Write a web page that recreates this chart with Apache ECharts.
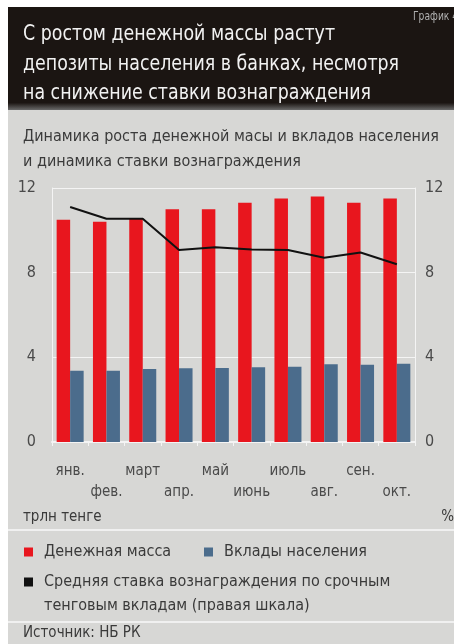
<!DOCTYPE html>
<html>
<head>
<meta charset="utf-8">
<script src="https://cdn.jsdelivr.net/npm/echarts@6/dist/echarts.min.js"></script>
<style>
html,body{margin:0;padding:0;background:#ffffff;}
#chart{width:454px;height:644px;}
</style>
</head>
<body>
<div id="chart"></div>
<script>
const categories = ['янв.', 'фев.', 'март', 'апр.', 'май', 'июнь', 'июль', 'авг.', 'сен.', 'окт.'];
const moneySupply = [10.5, 10.4, 10.55, 11.0, 11.0, 11.3, 11.5, 11.6, 11.3, 11.5];
const deposits = [3.37, 3.37, 3.45, 3.48, 3.5, 3.53, 3.56, 3.67, 3.65, 3.7];
const rate = [11.1, 10.55, 10.55, 9.07, 9.2, 9.1, 9.07, 8.7, 8.95, 8.4];
const yTicks = [0, 4, 8, 12];

const FONT = "'Liberation Sans Narrow', 'DejaVu Sans Condensed', 'Roboto Condensed', 'Liberation Sans', sans-serif";
const NAME_M = 'Денежная масса';
const NAME_D = 'Вклады населения';
const NAME_R_1 = 'Средняя ставка вознаграждения по срочным';
const NAME_R_2 = 'тенговым вкладам (правая шкала)';
const NAME_R = NAME_R_1 + ' ' + NAME_R_2;

const chart = echarts.init(document.getElementById('chart'), null, {renderer: 'canvas'});

const option = {
  backgroundColor: '#ffffff',
  animation: false,
  textStyle: {fontFamily: FONT},
  graphic: [
    {type: 'rect', silent: true, z: -10, shape: {x: 8, y: 7, width: 446, height: 637}, style: {fill: '#d7d7d5'}},
    {type: 'rect', silent: true, z: -9, shape: {x: 8, y: 7, width: 446, height: 103},
      style: {fill: {type: 'linear', x: 0, y: 0, x2: 0, y2: 1, colorStops: [
        {offset: 0, color: '#1b1512'}, {offset: 0.93, color: '#1b1512'}, {offset: 1, color: '#6a6a6a'}]}}},
    {type: 'text', silent: true, x: 23, y: 20, scaleX: 0.88, style: {
      text: 'С ростом денежной массы растут\nдепозиты населения в банках, несмотря\nна снижение ставки вознаграждения',
      fill: '#f2f2f2', font: '22px ' + FONT, lineHeight: 29.5}},
    {type: 'text', silent: true, x: 413, y: 11, scaleX: 0.85, style: {text: 'График 4', fill: '#b0b0b0', font: '12px ' + FONT}},
    {type: 'text', silent: true, x: 23, y: 124, style: {
      text: 'Динамика роста денежной масы и вкладов населения\nи динамика ставки вознаграждения',
      fill: '#3a3a3a', font: '16px ' + FONT, lineHeight: 25}},
    {type: 'text', silent: true, x: 23, y: 510, style: {text: 'трлн тенге', fill: '#3a3a3a', font: '15px ' + FONT}},
    {type: 'text', silent: true, right: 0, top: 510, style: {text: '%', fill: '#3a3a3a', font: '15px ' + FONT}},
    {type: 'rect', silent: true, shape: {x: 8, y: 529, width: 446, height: 2}, style: {fill: '#f0f0f0'}},
    {type: 'rect', silent: true, shape: {x: 8, y: 621, width: 446, height: 2}, style: {fill: '#f0f0f0'}},
    {type: 'text', silent: true, x: 44, y: 598, style: {text: NAME_R_2, fill: '#3a3a3a', font: '16px ' + FONT}},
    {type: 'text', silent: true, x: 23, y: 626, style: {text: 'Источник: НБ РК', fill: '#3a3a3a', font: '15px ' + FONT}}
  ],
  legend: [
    {left: 19, top: 539, icon: 'rect', itemWidth: 9, itemHeight: 9,
      data: [NAME_M], textStyle: {fontFamily: FONT, fontSize: 16, color: '#3a3a3a', padding: [0, 0, 0, 6]}},
    {left: 199, top: 539, icon: 'rect', itemWidth: 9, itemHeight: 9,
      data: [NAME_D], textStyle: {fontFamily: FONT, fontSize: 16, color: '#3a3a3a', padding: [0, 0, 0, 6]}},
    {left: 19, top: 569, icon: 'rect', itemWidth: 9, itemHeight: 9,
      data: [NAME_R], formatter: () => NAME_R_1,
      textStyle: {fontFamily: FONT, fontSize: 16, color: '#3a3a3a', padding: [0, 0, 0, 6]}}
  ],
  grid: {left: 52, right: 39, top: 188, bottom: 202, containLabel: false},
  xAxis: {
    type: 'category',
    data: categories,
    axisLine: {show: true, lineStyle: {color: '#f4f4f4', width: 2}},
    axisTick: {show: true, length: 4, lineStyle: {color: '#f4f4f4', width: 1}},
    axisLabel: {
      interval: 0, margin: 19, color: '#4a4a4a', fontSize: 15, lineHeight: 21, fontFamily: FONT,
      formatter: (v, i) => (i % 2 === 1 ? '\n' + v : v)
    },
    splitLine: {show: false}
  },
  yAxis: [
    {type: 'value', min: yTicks[0], max: yTicks[yTicks.length - 1], interval: 4,
      axisLine: {show: true, lineStyle: {color: '#f4f4f4', width: 1}}, axisTick: {show: false},
      axisLabel: {color: '#4a4a4a', fontSize: 16, margin: 16, fontFamily: FONT},
      splitLine: {show: true, lineStyle: {color: '#f4f4f4', width: 1}}},
    {type: 'value', min: yTicks[0], max: yTicks[yTicks.length - 1], interval: 4,
      axisLine: {show: true, lineStyle: {color: '#f4f4f4', width: 1}}, axisTick: {show: false},
      axisLabel: {color: '#4a4a4a', fontSize: 16, margin: 10, fontFamily: FONT},
      splitLine: {show: false}}
  ],
  series: [
    {name: NAME_M, type: 'bar', data: moneySupply, barWidth: 13.5, barGap: '0%',
      itemStyle: {color: '#e8161e'}},
    {name: NAME_D, type: 'bar', data: deposits, barWidth: 13.5, barGap: '0%',
      itemStyle: {color: '#4b6c8c'}},
    {name: NAME_R, type: 'line', yAxisIndex: 1, data: rate, symbol: 'none',
      lineStyle: {color: '#111111', width: 2}, itemStyle: {color: '#111111'}}
  ]
};
chart.setOption(option);
</script>
</body>
</html>
